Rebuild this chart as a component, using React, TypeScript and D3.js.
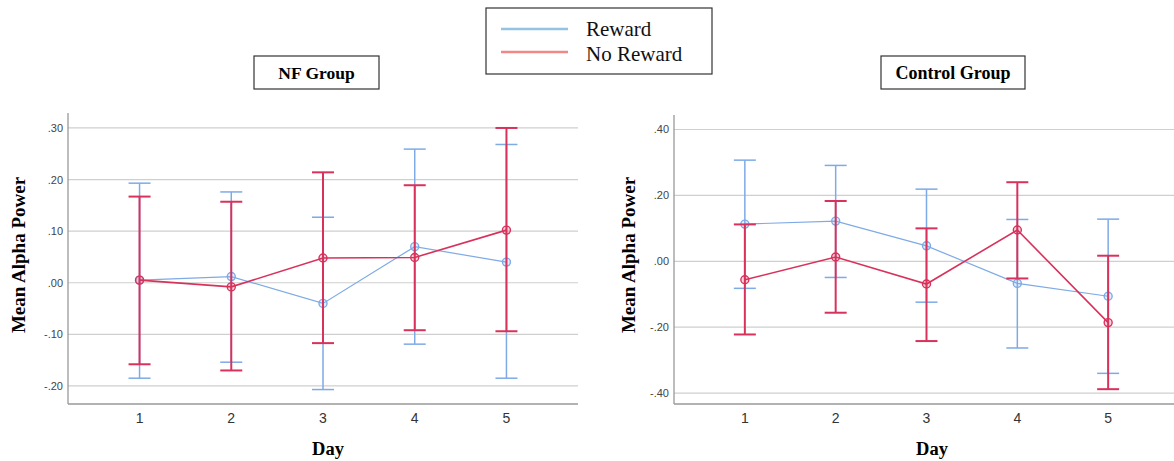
import React from "react";
import * as d3 from "d3";

const days = [1, 2, 3, 4, 5];

// NF group
const nfRewardMean = [0.005, 0.012, -0.04, 0.07, 0.04];
const nfRewardHigh = [0.193, 0.176, 0.127, 0.259, 0.268];
const nfRewardLow = [-0.185, -0.154, -0.207, -0.119, -0.185];
const nfNoRewardMean = [0.005, -0.008, 0.048, 0.049, 0.102];
const nfNoRewardHigh = [0.167, 0.157, 0.214, 0.189, 0.3];
const nfNoRewardLow = [-0.158, -0.17, -0.117, -0.092, -0.094];

// Control group
const ctRewardMean = [0.113, 0.122, 0.047, -0.067, -0.106];
const ctRewardHigh = [0.307, 0.291, 0.219, 0.127, 0.128];
const ctRewardLow = [-0.082, -0.049, -0.124, -0.263, -0.34];
const ctNoRewardMean = [-0.056, 0.013, -0.069, 0.095, -0.186];
const ctNoRewardHigh = [0.112, 0.183, 0.1, 0.24, 0.017];
const ctNoRewardLow = [-0.222, -0.156, -0.242, -0.052, -0.388];

const nfTicks = [0.3, 0.2, 0.1, 0, -0.1, -0.2];
const ctTicks = [0.4, 0.2, 0, -0.2, -0.4];

const BLUE = "#7eaae6";
const RED = "#d8325c";
const serif = "'Liberation Serif', 'Times New Roman', serif";
const sans = "'Liberation Sans', Arial, sans-serif";

const fmt = (v: number) => {
  const s = Math.abs(v).toFixed(2).replace(/^0/, "");
  return v < 0 ? "-" + s : s;
};

interface Series {
  mean: number[];
  high: number[];
  low: number[];
  color: string;
  width: number;
}

interface PanelProps {
  x0: number;
  x1: number;
  yTop: number;
  yBottom: number;
  domain: [number, number];
  ticks: number[];
  series: Series[];
  clipRight: number;
}

const Panel = ({ x0, x1, yTop, yBottom, domain, ticks, series, clipRight }: PanelProps) => {
  const x = d3.scaleLinear().domain([0.22, 5.78]).range([x0, x1]);
  const y = d3.scaleLinear().domain(domain).range([yBottom, yTop]);
  const right = Math.min(x1, clipRight);
  const line = d3
    .line<number>()
    .x((_, i) => x(days[i]))
    .y((d) => y(d));

  return (
    <g>
      {ticks.map((t) => (
        <g key={t}>
          <line x1={x0} x2={right} y1={y(t)} y2={y(t)} stroke="#cfcfcf" strokeWidth={1.2} />
          <text
            x={x0 - 5}
            y={y(t)}
            textAnchor="end"
            dominantBaseline="central"
            fontFamily={sans}
            fontSize={11}
            fill="#444"
          >
            {fmt(t)}
          </text>
        </g>
      ))}
      <line x1={x0} x2={x0} y1={yTop} y2={yBottom} stroke="#999" strokeWidth={1.3} />
      <line x1={x0} x2={right} y1={yBottom} y2={yBottom} stroke="#999" strokeWidth={1.3} />
      {days.map((d) => (
        <text
          key={d}
          x={x(d)}
          y={423}
          textAnchor="middle"
          fontFamily={sans}
          fontSize={14}
          fill="#333"
        >
          {d}
        </text>
      ))}
      {series.map((s, si) => (
        <g key={si}>
          <path d={line(s.mean) || ""} fill="none" stroke={s.color} strokeWidth={s.width * 0.8} />
          {days.map((d, i) => (
            <g key={d}>
              <line x1={x(d)} x2={x(d)} y1={y(s.low[i])} y2={y(s.high[i])} stroke={s.color} strokeWidth={s.width} />
              <line x1={x(d) - 11} x2={x(d) + 11} y1={y(s.high[i])} y2={y(s.high[i])} stroke={s.color} strokeWidth={s.width} />
              <line x1={x(d) - 11} x2={x(d) + 11} y1={y(s.low[i])} y2={y(s.low[i])} stroke={s.color} strokeWidth={s.width} />
              <circle cx={x(d)} cy={y(s.mean[i])} r={4} fill={s.color} fillOpacity={0.2} stroke={s.color} strokeWidth={1.4} />
            </g>
          ))}
        </g>
      ))}
    </g>
  );
};

const App = () => {
  const W = 1174;
  const H = 461;
  return (
    <svg width={W} height={H} style={{ position: "absolute", left: 0, top: 0, background: "#fff" }}>
      <rect width={W} height={H} fill="#fff" />
      <Panel
        x0={68}
        x1={578}
        yTop={113}
        yBottom={404}
        domain={[-0.235, 0.329]}
        ticks={nfTicks}
        clipRight={W}
        series={[
          { mean: nfRewardMean, high: nfRewardHigh, low: nfRewardLow, color: BLUE, width: 1.5 },
          { mean: nfNoRewardMean, high: nfNoRewardHigh, low: nfNoRewardLow, color: RED, width: 2 },
        ]}
      />
      <Panel
        x0={674}
        x1={1179}
        yTop={115}
        yBottom={404}
        domain={[-0.433, 0.444]}
        ticks={ctTicks}
        clipRight={W}
        series={[
          { mean: ctRewardMean, high: ctRewardHigh, low: ctRewardLow, color: BLUE, width: 1.5 },
          { mean: ctNoRewardMean, high: ctNoRewardHigh, low: ctNoRewardLow, color: RED, width: 2 },
        ]}
      />

      {/* axis titles */}
      {[18, 628].map((cx) => (
        <text
          key={cx}
          transform={`translate(${cx},255) rotate(-90)`}
          textAnchor="middle"
          dominantBaseline="central"
          fontFamily={serif}
          fontWeight="bold"
          fontSize={19}
          fill="#000"
        >
          Mean Alpha Power
        </text>
      ))}
      {[328, 932].map((cx) => (
        <text key={cx} x={cx} y={455} textAnchor="middle" fontFamily={serif} fontWeight="bold" fontSize={18.5} fill="#000">
          Day
        </text>
      ))}

      {/* panel titles */}
      <rect x={254} y={56} width={125} height={33} fill="#fff" stroke="#333" strokeWidth={1.2} />
      <text x={316.5} y={73} textAnchor="middle" dominantBaseline="central" fontFamily={serif} fontWeight="bold" fontSize={17.5}>
        NF Group
      </text>
      <rect x={881} y={56} width={144} height={33} fill="#fff" stroke="#333" strokeWidth={1.2} />
      <text x={953} y={73} textAnchor="middle" dominantBaseline="central" fontFamily={serif} fontWeight="bold" fontSize={18}>
        Control Group
      </text>

      {/* legend */}
      <rect x={486} y={8} width={226} height={66} fill="#fff" stroke="#333" strokeWidth={1.2} />
      <line x1={501} x2={568} y1={29} y2={29} stroke="#95c3e2" strokeWidth={2.4} />
      <line x1={501} x2={568} y1={52} y2={52} stroke="#f08888" strokeWidth={2.4} />
      <text x={586} y={36} fontFamily={serif} fontSize={21} fill="#111">
        Reward
      </text>
      <text x={586} y={61} fontFamily={serif} fontSize={21} fill="#111">
        No Reward
      </text>
    </svg>
  );
};

export default App;
